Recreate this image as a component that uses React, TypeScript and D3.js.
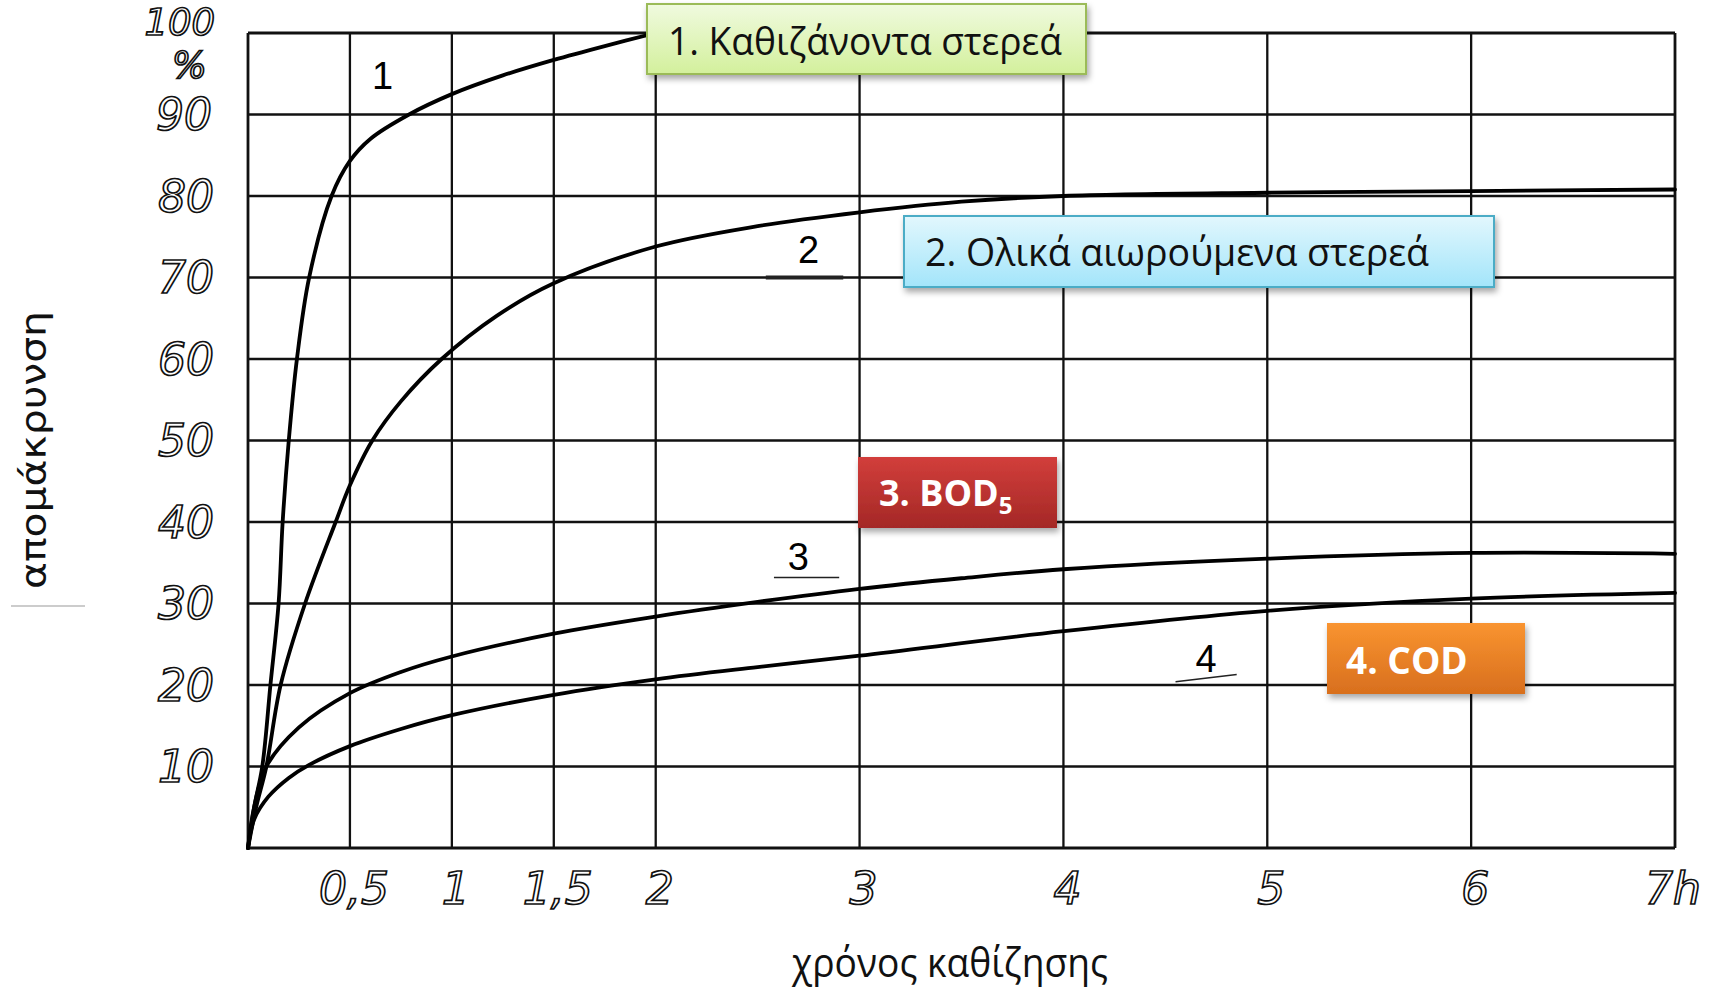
import React from "react";
import * as d3 from "d3";

// settling time (h) vs removal (%)
const settleableT = [0, 0.03, 0.07, 0.11, 0.15, 0.17, 0.2, 0.24, 0.3, 0.41, 0.5, 0.6, 0.79, 1, 1.25, 1.5, 1.75, 2];
const settleableV = [0, 5, 10, 20, 30, 40, 50, 60, 70, 80, 84.3, 87, 90, 92.5, 94.8, 96.7, 98.4, 100];

const tssT = [0, 0.04, 0.09, 0.16, 0.28, 0.43, 0.5, 0.61, 0.75, 0.95, 1.22, 1.5, 2, 2.5, 3, 3.5, 4, 5, 6, 7];
const tssV = [0, 5, 10, 20, 30, 40, 44.5, 50, 54.8, 60, 65.3, 69.3, 73.8, 76.3, 78, 79.3, 80, 80.4, 80.6, 80.8];

const bodT = [0, 0.03, 0.09, 0.25, 0.5, 0.75, 1, 1.5, 2, 2.5, 3, 3.5, 4, 5, 6, 7];
const bodV = [0, 5, 10, 14.8, 19, 21.6, 23.5, 26.3, 28.4, 30.2, 31.8, 33.1, 34.2, 35.5, 36.2, 36.1];

const codT = [0, 0.03, 0.1, 0.2, 0.3, 0.5, 0.75, 1, 1.5, 2, 2.5, 3, 4, 5, 6, 7];
const codV = [0, 3.5, 6.3, 8.6, 10.2, 12.5, 14.6, 16.3, 18.8, 20.7, 22.2, 23.6, 26.6, 29.1, 30.6, 31.3];

const xTicks = [0.5, 1, 1.5, 2, 3, 4, 5, 6, 7];
const xTickLabels = ["0,5", "1", "1,5", "2", "3", "4", "5", "6", "7h"];
const yTicks = [10, 20, 30, 40, 50, 60, 70, 80, 90];
const yTickLabels = ["10", "20", "30", "40", "50", "60", "70", "80", "90"];
const yTopLabels = ["100", "%"];

const curveNames = ["1", "2", "3", "4"];

const W = 1716, H = 990;

export default function App() {
  const x = d3.scaleLinear().domain([0, 7]).range([248, 1675]);
  const y = d3.scaleLinear().domain([0, 100]).range([848, 33]);

  const line = d3.line<[number, number]>()
    .x(d => x(d[0]))
    .y(d => y(d[1]))
    .curve(d3.curveCatmullRom.alpha(0.5));

  const series = [
    d3.zip(settleableT, settleableV),
    d3.zip(tssT, tssV),
    d3.zip(bodT, bodV),
    d3.zip(codT, codV),
  ] as [number, number][][];

  // curve number labels sit next to their curves
  const numPos: [number, number][] = [[0.66, 94.8], [2.75, 73.4], [2.7, 35.8], [4.7, 23.2]];

  const digitStyle = {
    fontFamily: "'DejaVu Sans', sans-serif",
    fontStyle: "italic",
    fontSize: 44,
    fill: "#fff",
    stroke: "#111",
    strokeWidth: 1.7,
  } as const;

  return (
    <svg width={W} height={H} style={{ position: "absolute", left: 0, top: 0, background: "#fff" }}>
      <defs>
        <linearGradient id="gGreen" x1="0" y1="0" x2="0" y2="1">
          <stop offset="0" stopColor="#f0fadf" />
          <stop offset="1" stopColor="#d3f09c" />
        </linearGradient>
        <linearGradient id="gBlue" x1="0" y1="0" x2="0" y2="1">
          <stop offset="0" stopColor="#e2f7fd" />
          <stop offset="1" stopColor="#a3e5fa" />
        </linearGradient>
        <linearGradient id="gRed" x1="0" y1="0" x2="0" y2="1">
          <stop offset="0" stopColor="#d23e3b" />
          <stop offset="1" stopColor="#a42826" />
        </linearGradient>
        <linearGradient id="gOrange" x1="0" y1="0" x2="0" y2="1">
          <stop offset="0" stopColor="#f99430" />
          <stop offset="1" stopColor="#d86f1e" />
        </linearGradient>
        <filter id="shadow" x="-10%" y="-20%" width="130%" height="160%">
          <feDropShadow dx="2" dy="4" stdDeviation="3" floodColor="#000" floodOpacity="0.35" />
        </filter>
      </defs>

      {/* grid */}
      <g stroke="#111" fill="none">
        {[0, ...xTicks].map(t => (
          <line key={"vx" + t} x1={x(t)} x2={x(t)} y1={y(0)} y2={y(100)} strokeWidth={t === 0 || t === 7 ? 2.8 : 2.3} />
        ))}
        {[0, ...yTicks, 100].map(v => (
          <line key={"hy" + v} x1={x(0)} x2={x(7)} y1={y(v)} y2={y(v)} strokeWidth={v === 0 || v === 100 ? 2.8 : 2.3} />
        ))}
      </g>

      {/* curves */}
      <g fill="none" stroke="#000" strokeWidth={3.8} strokeLinecap="round">
        {series.map((s, i) => <path key={i} d={line(s) || ""} />)}
      </g>

      {/* curve numbers with their small leader strokes */}
      <g fontFamily="'Liberation Sans', Arial, sans-serif" fontSize={38} fill="#000" textAnchor="middle">
        {curveNames.map((n, i) => (
          <text key={n} x={x(numPos[i][0])} y={y(numPos[i][1])} dy="0.35em">{n}</text>
        ))}
      </g>
      <g stroke="#222">
        <line x1={x(2.54)} x2={x(2.92)} y1={y(70)} y2={y(70)} strokeWidth={4} />
        <line x1={x(2.58)} x2={x(2.9)} y1={y(33.2)} y2={y(33.2)} strokeWidth={1.5} />
        <line x1={x(4.55)} x2={x(4.85)} y1={y(20.4)} y2={y(21.3)} strokeWidth={1.5} />
      </g>

      {/* y tick labels, hollow stencil digits */}
      <g {...digitStyle} textAnchor="end">
        {yTicks.map((v, i) => (
          <text key={v} x={v === 90 ? 212 : 214} y={y(v)} dy="0.36em">{yTickLabels[i]}</text>
        ))}
        <text x={215} y={22} dy="0.36em" fontSize={37}>{yTopLabels[0]}</text>
        <text x={207} y={65} dy="0.36em" fontSize={37}>{yTopLabels[1]}</text>
      </g>

      {/* x tick labels */}
      <g {...digitStyle} textAnchor="middle">
        {xTicks.map((t, i) => (
          <text key={t} x={x(t) + (t === 7 ? -2 : 4)} y={888} dy="0.36em">{xTickLabels[i]}</text>
        ))}
      </g>

      {/* axis titles */}
      <text
        transform="translate(46,450) rotate(-90)"
        textAnchor="middle"
        fontFamily="'DejaVu Sans', sans-serif"
        fontSize={36}
        textLength={278}
        lengthAdjust="spacingAndGlyphs"
        fill="#111"
      >απομάκρυνση</text>
      <line x1={11} x2={85} y1={606} y2={606} stroke="#999" strokeWidth={1} />
      <text
        x={792}
        y={977}
        fontFamily="'Open Sans', sans-serif"
        fontSize={40}
        textLength={316}
        lengthAdjust="spacingAndGlyphs"
        fill="#111"
      >χρόνος καθίζησης</text>

      {/* legend boxes */}
      <g filter="url(#shadow)">
        <rect x={647} y={4} width={439} height={70} fill="url(#gGreen)" stroke="#9bbb59" strokeWidth={2} />
        <rect x={904} y={216} width={590} height={71} fill="url(#gBlue)" stroke="#4bacc6" strokeWidth={2} />
        <rect x={858} y={457} width={199} height={71} fill="url(#gRed)" />
        <rect x={1327} y={623} width={198} height={71} fill="url(#gOrange)" />
      </g>
      <g fontFamily="'Open Sans', sans-serif" fill="#111">
        <text x={668} y={55} fontSize={38} textLength={394} lengthAdjust="spacingAndGlyphs">1. Καθιζάνοντα στερεά</text>
        <text x={925} y={266} fontSize={38} textLength={504} lengthAdjust="spacingAndGlyphs">2. Ολικά αιωρούμενα στερεά</text>
      </g>
      <g fontFamily="'Open Sans', sans-serif" fontWeight="bold" fill="#fff">
        <text x={879} y={506} fontSize={36}>
          3. BOD<tspan fontSize={24} dy={8}>5</tspan>
        </text>
        <text x={1346} y={674} fontSize={37}>4. COD</text>
      </g>
    </svg>
  );
}
